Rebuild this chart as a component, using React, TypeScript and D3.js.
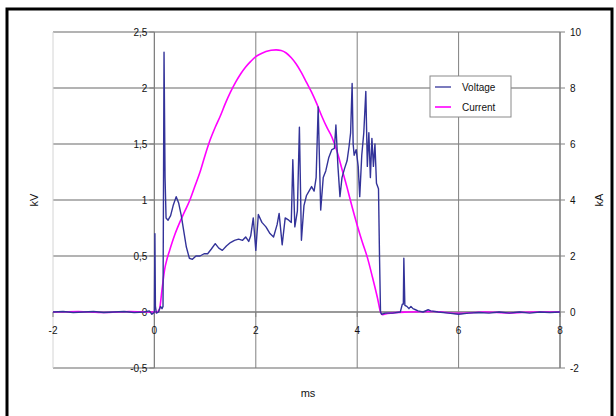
import React from "react";
import * as d3 from "d3";

// ---- data ----
const voltageT = [
  -2, -1.8, -1.6, -1.4, -1.2, -1.0, -0.8, -0.6, -0.4, -0.2, -0.1, -0.05, -0.02,
  0.0, 0.01, 0.02, 0.04, 0.08, 0.12, 0.15, 0.17, 0.19, 0.21, 0.23, 0.27, 0.32,
  0.37, 0.43, 0.48, 0.53, 0.58, 0.63, 0.69, 0.75, 0.82, 0.9, 0.98, 1.05, 1.12,
  1.2, 1.27, 1.34, 1.42, 1.5, 1.58, 1.66, 1.74, 1.8, 1.86, 1.9, 1.95, 2.0, 2.05,
  2.12, 2.2, 2.28, 2.35, 2.42, 2.46, 2.52, 2.58, 2.65, 2.7, 2.73, 2.77, 2.82,
  2.86, 2.9, 2.95, 3.0, 3.05, 3.1, 3.15, 3.19, 3.23, 3.28, 3.33, 3.38, 3.44,
  3.5, 3.55, 3.58, 3.62, 3.66, 3.7, 3.75, 3.8, 3.84, 3.87, 3.9, 3.92, 3.94, 3.98,
  4.02, 4.05, 4.09, 4.13, 4.17, 4.2, 4.23, 4.26, 4.29, 4.32, 4.35, 4.38, 4.42,
  4.44, 4.46, 4.48, 4.55, 4.7, 4.85, 4.89, 4.91, 4.92, 4.94, 4.98, 5.02, 5.06,
  5.1, 5.15, 5.2, 5.3, 5.4, 5.45, 5.6, 5.8, 6.0, 6.2, 6.4, 6.6, 6.8, 7.0, 7.2,
  7.4, 7.6, 7.8, 8.0,
];
const voltageKV = [
  0, 0.005, -0.005, 0, 0.005, -0.005, 0, 0.005, -0.005, 0, 0.01, -0.02, -0.01,
  0.0, 0.7, 0.05, -0.01, 0.0, 0.05, 0.03, 0.05, 2.32, 1.2, 0.84, 0.82, 0.86,
  0.95, 1.03, 0.97, 0.86, 0.72, 0.58, 0.48, 0.47, 0.5, 0.5, 0.52, 0.52, 0.56,
  0.61, 0.57, 0.55, 0.59, 0.62, 0.64, 0.65, 0.64, 0.67, 0.63, 0.68, 0.84, 0.55, 0.87,
  0.8, 0.76, 0.7, 0.67, 0.78, 0.88, 0.6, 0.84,
  0.82, 0.8, 1.36, 0.76, 0.9,
  1.65, 0.64, 0.95, 1.04, 1.08, 1.12, 1.08, 1.2, 1.83, 0.91, 1.2, 1.26, 1.38,
  1.45, 1.46, 1.67, 1.3, 1.03, 1.2, 1.28, 1.35, 1.48, 1.6, 2.04, 1.5, 1.4, 1.45,
  1.3, 1.03, 1.4, 1.6, 1.97, 1.3, 1.6, 1.2, 1.55, 1.3, 1.5, 1.15, 1.1,
  0.5, 0.0, -0.02, -0.01, -0.01, 0.0, 0.07, 0.07, 0.48, 0.06, 0.05, 0.03, 0.05,
  0.03, 0.02, 0.01, 0.0, 0.02, 0.01, 0.0, -0.01, -0.02, -0.01, -0.005, -0.01, 0.0, -0.01, 0.0,
  -0.01, 0.0, -0.005, 0.0,
];
const currentT = [
  -2, -1.5, -1, -0.5, 0, 0.05, 0.1, 0.15, 0.2, 0.25, 0.3, 0.4, 0.5, 0.6, 0.7,
  0.8, 0.9, 1.0, 1.1, 1.2, 1.3, 1.4, 1.5, 1.6, 1.7, 1.8, 1.9, 2.0, 2.1, 2.2,
  2.3, 2.4, 2.5, 2.6, 2.7, 2.8, 2.9, 3.0, 3.1, 3.2, 3.3, 3.4, 3.5, 3.6, 3.7,
  3.8, 3.9, 4.0, 4.1, 4.2, 4.3, 4.4, 4.46, 4.5, 4.6, 5, 5.5, 6, 6.5, 7, 7.5, 8,
];
const currentKA = [
  0, 0.02, -0.02, 0.02, 0, 0.0, 0.1, 0.8, 1.5, 1.9, 2.2, 2.75, 3.2, 3.6, 4.0,
  4.5, 5.0, 5.6, 6.15, 6.6, 7.0, 7.45, 7.85, 8.2, 8.5, 8.75, 8.95, 9.12, 9.22, 9.3,
  9.35, 9.36, 9.34, 9.25, 9.08, 8.85, 8.55, 8.2, 7.85, 7.45, 7.0, 6.6, 6.25, 5.75, 5.1,
  4.45, 3.75, 3.1, 2.5, 1.95, 1.25, 0.5, 0.0, -0.1, -0.05, 0, 0.02, -0.05, 0, -0.03, 0, 0,
];
const xTicks = [-2, 0, 2, 4, 6, 8];
const kvTicks = [-0.5, 0, 0.5, 1, 1.5, 2, 2.5];
const kaTicks = [-2, 0, 2, 4, 6, 8, 10];
const seriesNames = ["Voltage", "Current"];
const seriesColors = ["#333399", "#ff00ff"];

const FONT = "'Liberation Sans', Arial, sans-serif";

export default function App() {
  const x = d3.scaleLinear().domain([-2, 8]).range([53, 560]);
  const yV = d3.scaleLinear().domain([-0.5, 2.5]).range([368, 32]);
  const yA = d3.scaleLinear().domain([-2, 10]).range([368, 32]);

  const vData = voltageT.map((t, i) => [t, voltageKV[i]] as [number, number]);
  const aData = currentT.map((t, i) => [t, currentKA[i]] as [number, number]);

  const vLine = d3
    .line<[number, number]>()
    .x((d) => x(d[0]))
    .y((d) => yV(d[1]));
  const aLine = d3
    .line<[number, number]>()
    .x((d) => x(d[0]))
    .y((d) => yA(d[1]))
    .curve(d3.curveMonotoneX);

  const fmt = (v: number) => String(v).replace(".", ",");
  const x0 = x(0);
  const y0 = yV(0);
  const [xmin, xmax] = x.range();
  const [ybot, ytop] = yV.range();

  return (
    <div style={{ position: "fixed", left: 0, top: 0 }}>
      <svg width={616} height={416} style={{ display: "block", background: "#fff" }}>
        <rect x={0} y={0} width={616} height={416} fill="#fff" />
        {kvTicks.map((v) => (
          <line key={"hg" + v} x1={xmin} x2={xmax} y1={yV(v)} y2={yV(v)} stroke="#9a9a9a" strokeWidth={1.6} />
        ))}
        {xTicks.map((t) => (
          <line
            key={"vg" + t}
            x1={x(t)}
            x2={x(t)}
            y1={ytop}
            y2={ybot}
            stroke={t === -2 ? "#d4d4d4" : "#808080"}
            strokeWidth={1}
          />
        ))}
        <line x1={x0} x2={x0} y1={ytop} y2={ybot} stroke="#808080" strokeWidth={1.2} />
        {kvTicks.map((v) => (
          <line key={"lt" + v} x1={x0 - 5} x2={x0} y1={yV(v)} y2={yV(v)} stroke="#808080" />
        ))}
        {kvTicks.map((v) => (
          <text
            key={"ll" + v}
            x={x0 - 7}
            y={yV(v)}
            dy="0.35em"
            textAnchor="end"
            fontFamily={FONT}
            fontSize={10}
            fill="#111"
          >
            {fmt(v)}
          </text>
        ))}
        <line x1={xmax} x2={xmax} y1={ytop} y2={ybot} stroke="#808080" strokeWidth={1.2} />
        {kaTicks.map((v) => (
          <line key={"rt" + v} x1={xmax} x2={xmax + 5} y1={yA(v)} y2={yA(v)} stroke="#808080" />
        ))}
        {kaTicks.map((v) => (
          <text
            key={"rl" + v}
            x={xmax + 10}
            y={yA(v)}
            dy="0.35em"
            textAnchor="start"
            fontFamily={FONT}
            fontSize={10}
            fill="#111"
          >
            {fmt(v)}
          </text>
        ))}
        <line x1={xmin} x2={xmax} y1={y0} y2={y0} stroke="#808080" strokeWidth={1.2} />
        {xTicks.map((t) => (
          <line key={"xt" + t} x1={x(t)} x2={x(t)} y1={y0} y2={y0 + 5} stroke="#808080" />
        ))}
        {xTicks.map((t) => (
          <text
            key={"xl" + t}
            x={x(t)}
            y={y0 + 22}
            textAnchor="middle"
            fontFamily={FONT}
            fontSize={10}
            fill="#111"
          >
            {fmt(t)}
          </text>
        ))}
        <path d={aLine(aData) || ""} fill="none" stroke={seriesColors[1]} strokeWidth={1.6} />
        <path d={vLine(vData) || ""} fill="none" stroke={seriesColors[0]} strokeWidth={1.4} strokeLinejoin="round" />
        <text
          transform={`translate(38,${(ytop + ybot) / 2}) rotate(-90)`}
          textAnchor="middle"
          fontFamily={FONT}
          fontSize={11}
          fill="#111"
        >
          kV
        </text>
        <text
          transform={`translate(603,${(ytop + ybot) / 2}) rotate(-90)`}
          textAnchor="middle"
          fontFamily={FONT}
          fontSize={11}
          fill="#111"
        >
          kA
        </text>
        <text x={308} y={397} textAnchor="middle" fontFamily={FONT} fontSize={11} fill="#111">
          ms
        </text>
        <g>
          <rect x={430} y={76} width={81} height={41} fill="#fff" stroke="#8a8a8a" strokeWidth={1} />
          {seriesNames.map((n, i) => (
            <g key={n}>
              <line
                x1={435}
                x2={451}
                y1={87 + i * 20}
                y2={87 + i * 20}
                stroke={seriesColors[i]}
                strokeWidth={i === 0 ? 1.3 : 1.6}
              />
              <text x={462} y={87 + i * 20} dy="0.35em" fontFamily={FONT} fontSize={10} fill="#111">
                {n}
              </text>
            </g>
          ))}
        </g>
        <rect x={7} y={9} width={605} height={420} fill="none" stroke="#000" strokeWidth={3} />
      </svg>
    </div>
  );
}
